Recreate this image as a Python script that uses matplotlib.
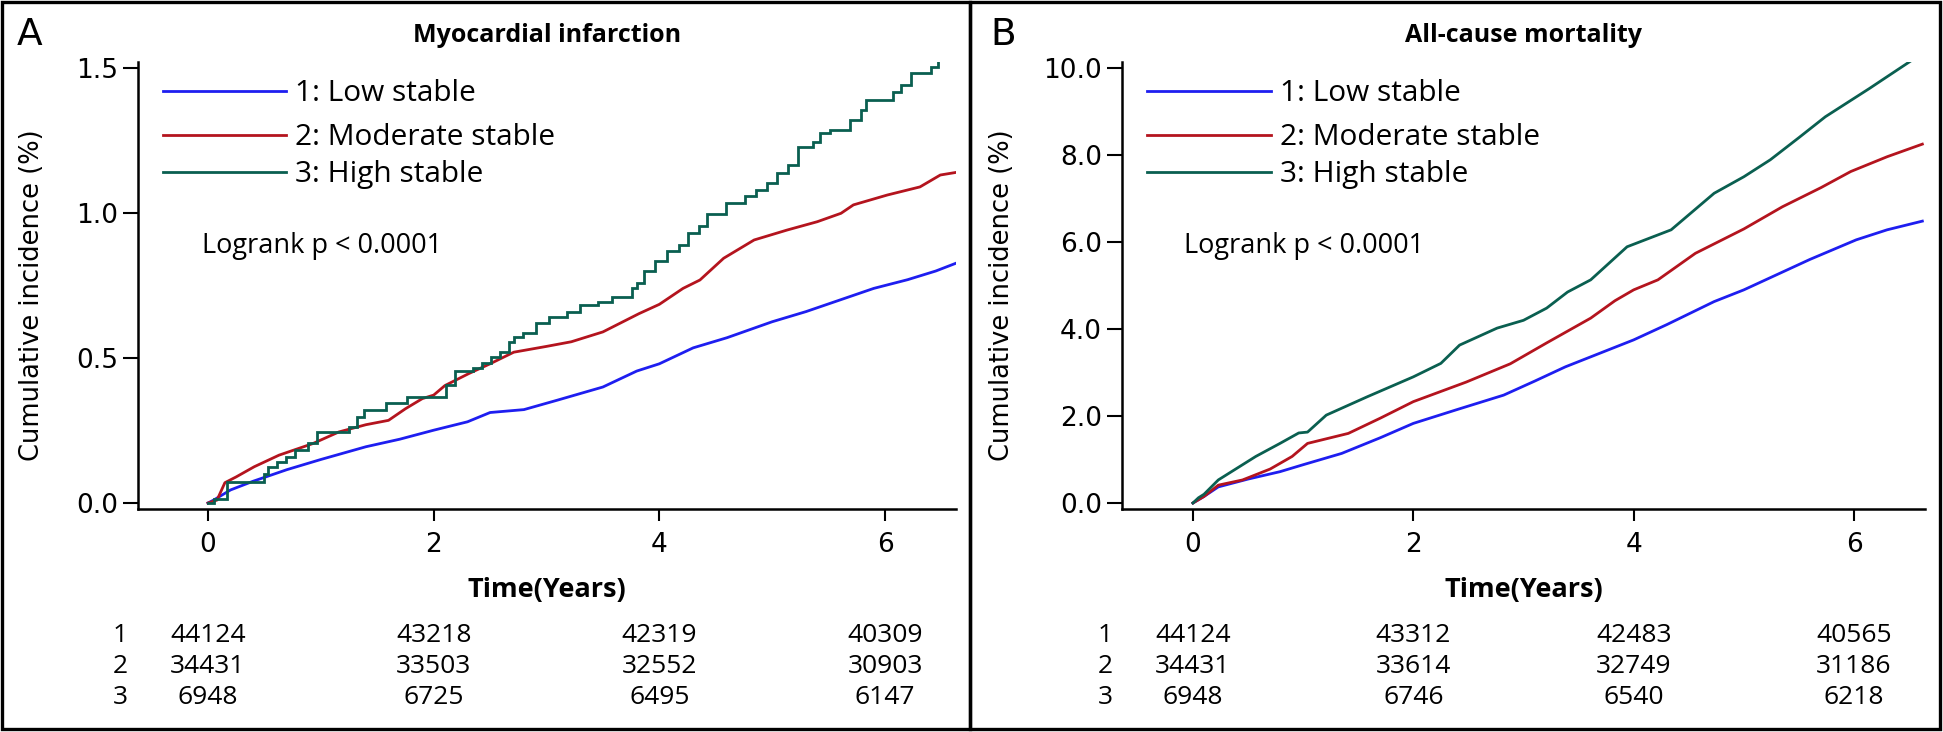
import matplotlib
matplotlib.use('Agg')
import matplotlib.pyplot as plt
import matplotlib.transforms as mtransforms
from matplotlib.patches import Rectangle
from matplotlib.lines import Line2D

W, H = 1943, 732
SANS = ['Open Sans', 'DejaVu Sans']

groups = ['1: Low stable', '2: Moderate stable', '3: High stable']
colors = ['#1e1ef0', '#b4141e', '#0a5f50']
risk_times = [0, 2, 4, 6]

# ---- panel A: myocardial infarction (cumulative incidence, %) ----
mi_low_t = [0, 0.05, 0.2, 0.4, 0.7, 1.0, 1.4, 1.7, 2.0, 2.3, 2.5, 2.8, 3.1, 3.5, 3.8,
            4.0, 4.3, 4.6, 5.0, 5.3, 5.6, 5.9, 6.2, 6.45, 6.63]
mi_low_v = [0, 0.01, 0.045, 0.075, 0.115, 0.15, 0.194, 0.22, 0.251, 0.28, 0.312, 0.322,
            0.355, 0.40, 0.455, 0.48, 0.535, 0.57, 0.625, 0.66, 0.70, 0.74, 0.77, 0.80, 0.827]
mi_mod_t = [0, 0.08, 0.15, 0.25, 0.41, 0.63, 0.93, 1.16, 1.40, 1.60, 1.75, 1.90, 2.00, 2.10,
            2.31, 2.50, 2.71, 3.00, 3.22, 3.50, 3.82, 4.00, 4.21, 4.36, 4.57, 4.84, 5.13,
            5.40, 5.61, 5.72, 6.02, 6.31, 6.49, 6.63]
mi_mod_v = [0, 0.01, 0.07, 0.09, 0.125, 0.165, 0.205, 0.245, 0.27, 0.285, 0.325, 0.36, 0.372,
            0.405, 0.446, 0.48, 0.52, 0.54, 0.556, 0.59, 0.653, 0.685, 0.74, 0.769, 0.844,
            0.907, 0.941, 0.97, 0.999, 1.028, 1.062, 1.09, 1.131, 1.14]
mi_high_t = [0, 0.05, 0.17, 0.50, 0.53, 0.61, 0.69, 0.77, 0.89, 0.97, 1.25, 1.32, 1.38, 1.58,
             1.76, 2.11, 2.19, 2.35, 2.43, 2.51, 2.59, 2.67, 2.71, 2.79, 2.91, 3.02, 3.18,
             3.30, 3.46, 3.58, 3.76, 3.80, 3.86, 3.96, 4.07, 4.17, 4.25, 4.35, 4.42, 4.59,
             4.76, 4.86, 4.95, 5.04, 5.14, 5.23, 5.36, 5.42, 5.51, 5.69, 5.79, 5.83, 6.07,
             6.14, 6.23, 6.41, 6.47]
mi_high_v = [0, 0.015, 0.072, 0.10, 0.125, 0.142, 0.16, 0.183, 0.206, 0.246, 0.263, 0.298,
             0.321, 0.346, 0.364, 0.408, 0.455, 0.464, 0.482, 0.505, 0.522, 0.556, 0.574,
             0.585, 0.62, 0.643, 0.66, 0.683, 0.694, 0.712, 0.74, 0.76, 0.80, 0.835, 0.87,
             0.89, 0.93, 0.955, 0.995, 1.035, 1.06, 1.079, 1.102, 1.137, 1.166, 1.229, 1.246,
             1.275, 1.286, 1.321, 1.355, 1.39, 1.418, 1.441, 1.482, 1.504, 1.524]
mi_risk = [[44124, 43218, 42319, 40309],
           [34431, 33503, 32552, 30903],
           [6948, 6725, 6495, 6147]]

# ---- panel B: all-cause mortality ----
acm_low_t = [0, 0.1, 0.23, 0.5, 0.79, 1.0, 1.35, 1.7, 2.0, 2.4, 2.82, 3.1, 3.38, 3.7, 4.0,
             4.3, 4.73, 5.0, 5.24, 5.6, 6.02, 6.3, 6.62]
acm_low_v = [0, 0.15, 0.37, 0.55, 0.72, 0.88, 1.14, 1.50, 1.83, 2.15, 2.48, 2.80, 3.13,
             3.45, 3.75, 4.1, 4.63, 4.9, 5.18, 5.6, 6.05, 6.28, 6.48]
acm_mod_t = [0, 0.1, 0.23, 0.45, 0.7, 0.9, 1.04, 1.41, 1.7, 2.0, 2.48, 2.88, 3.21, 3.61,
             3.83, 4.0, 4.22, 4.56, 5.0, 5.35, 5.7, 5.97, 6.3, 6.62]
acm_mod_v = [0, 0.15, 0.41, 0.53, 0.78, 1.07, 1.37, 1.60, 1.95, 2.33, 2.78, 3.2, 3.68, 4.25,
             4.65, 4.9, 5.13, 5.74, 6.3, 6.81, 7.25, 7.62, 7.96, 8.25]
acm_high_t = [0, 0.05, 0.1, 0.23, 0.4, 0.57, 0.79, 0.96, 1.04, 1.21, 1.58, 2.0, 2.25, 2.42,
              2.76, 3.0, 3.21, 3.4, 3.61, 3.94, 4.34, 4.73, 5.0, 5.24, 5.5, 5.74, 6.14,
              6.3, 6.52]
acm_high_v = [0, 0.12, 0.2, 0.53, 0.8, 1.07, 1.37, 1.61, 1.63, 2.02, 2.44, 2.90, 3.21, 3.63,
              4.02, 4.2, 4.48, 4.85, 5.13, 5.89, 6.28, 7.12, 7.5, 7.89, 8.4, 8.88, 9.53,
              9.8, 10.17]
acm_risk = [[44124, 43312, 42483, 40565],
            [34431, 33614, 32749, 31186],
            [6948, 6746, 6540, 6218]]


def fx(x):
    return x / W


def fy(y):
    return 1 - y / H


panels = [
    dict(letter='A', title='Myocardial infarction',
         curves=[(mi_low_t, mi_low_v, None), (mi_mod_t, mi_mod_v, None),
                 (mi_high_t, mi_high_v, 'steps-post')],
         risk=mi_risk, yticks=[0.0, 0.5, 1.0, 1.5], ylim=(-0.0207, 1.5207),
         xlim=(-0.62, 6.629), box=(138, 956), frame=(2, 970),
         letter_x=17, ylab_x=32, row_x=120, leg=(163, 286, 295), logrank_x=202),
    dict(letter='B', title='All-cause mortality',
         curves=[(acm_low_t, acm_low_v, None), (acm_mod_t, acm_mod_v, None),
                 (acm_high_t, acm_high_v, None)],
         risk=acm_risk, yticks=[0.0, 2.0, 4.0, 6.0, 8.0, 10.0], ylim=(-0.138, 10.138),
         xlim=(-0.644, 6.644), box=(1122, 1925), frame=(970, 1940),
         letter_x=990, ylab_x=1002, row_x=1105, leg=(1147, 1271, 1280), logrank_x=1184),
]

fig = plt.figure(figsize=(W / 100, H / 100), dpi=100)
fig.patch.set_facecolor('white')

ax_top, ax_bot = 62, 509
leg_rows = [91, 135, 172]
risk_rows = [642, 673, 704]

for p in panels:
    left, right = p['box']
    ax = fig.add_axes([fx(left), fy(ax_bot), (right - left) / W, (ax_bot - ax_top) / H])
    for (t, v, ds), c in zip(p['curves'], colors):
        if ds:
            ax.plot(t, v, color=c, lw=2.0, drawstyle=ds, solid_joinstyle='miter')
        else:
            ax.plot(t, v, color=c, lw=2.0)
    ax.set_xlim(*p['xlim'])
    ax.set_ylim(*p['ylim'])
    ax.set_xticks(risk_times)
    ax.set_xticklabels([str(t) for t in risk_times])
    ax.set_yticks(p['yticks'])
    ax.set_yticklabels(['%.1f' % v for v in p['yticks']])
    for s in ['top', 'right']:
        ax.spines[s].set_visible(False)
    for s in ['left', 'bottom']:
        ax.spines[s].set_linewidth(1.8)
    ax.tick_params(axis='x', direction='out', length=8.5, width=1.5, labelsize=19, pad=8)
    ax.tick_params(axis='y', direction='out', length=10.5, width=1.5, labelsize=19, pad=4)
    ax.patch.set_alpha(0)

    cx = fx((left + right) / 2)
    fig.text(fx(p['letter_x']), fy(45), p['letter'], fontsize=27, ha='left', va='baseline')
    fig.text(cx, fy(42), p['title'], fontsize=18, fontweight='bold', family=SANS,
             ha='center', va='baseline')
    fig.text(cx, fy(597), 'Time(Years)', fontsize=19.5, fontweight='bold', family=SANS,
             ha='center', va='baseline')
    fig.text(fx(p['ylab_x']), fy(295), 'Cumulative incidence (%)', fontsize=18.5,
             rotation=90, ha='center', va='center')

    # legend
    x1, x2, xt = p['leg']
    for ry, lab, c in zip(leg_rows, groups, colors):
        fig.add_artist(Line2D([fx(x1), fx(x2)], [fy(ry), fy(ry)], color=c, lw=2.0,
                              transform=fig.transFigure))
        fig.text(fx(xt), fy(ry + 10), lab, fontsize=21.5, family=SANS, ha='left',
                 va='baseline')
    fig.text(fx(p['logrank_x']), fy(253), 'Logrank p < 0.0001', fontsize=19.5,
             family=SANS, ha='left', va='baseline')

    # number at risk table
    trans = mtransforms.blended_transform_factory(ax.transData, fig.transFigure)
    for i, (ry, row) in enumerate(zip(risk_rows, p['risk'])):
        fig.text(fx(p['row_x']), fy(ry), str(i + 1), fontsize=19, family=SANS,
                 ha='center', va='baseline')
        for t, n in zip(risk_times, row):
            ax.text(t, fy(ry), str(n), transform=trans, fontsize=19, family=SANS,
                    ha='center', va='baseline', clip_on=False)

    # panel frame
    f0, f1 = p['frame']
    fig.add_artist(Rectangle((fx(f0), fy(729)), (f1 - f0) / W, (729 - 2) / H, fill=False,
                             lw=2.4, edgecolor='black', transform=fig.transFigure))

fig.savefig('out.png', dpi=100)
